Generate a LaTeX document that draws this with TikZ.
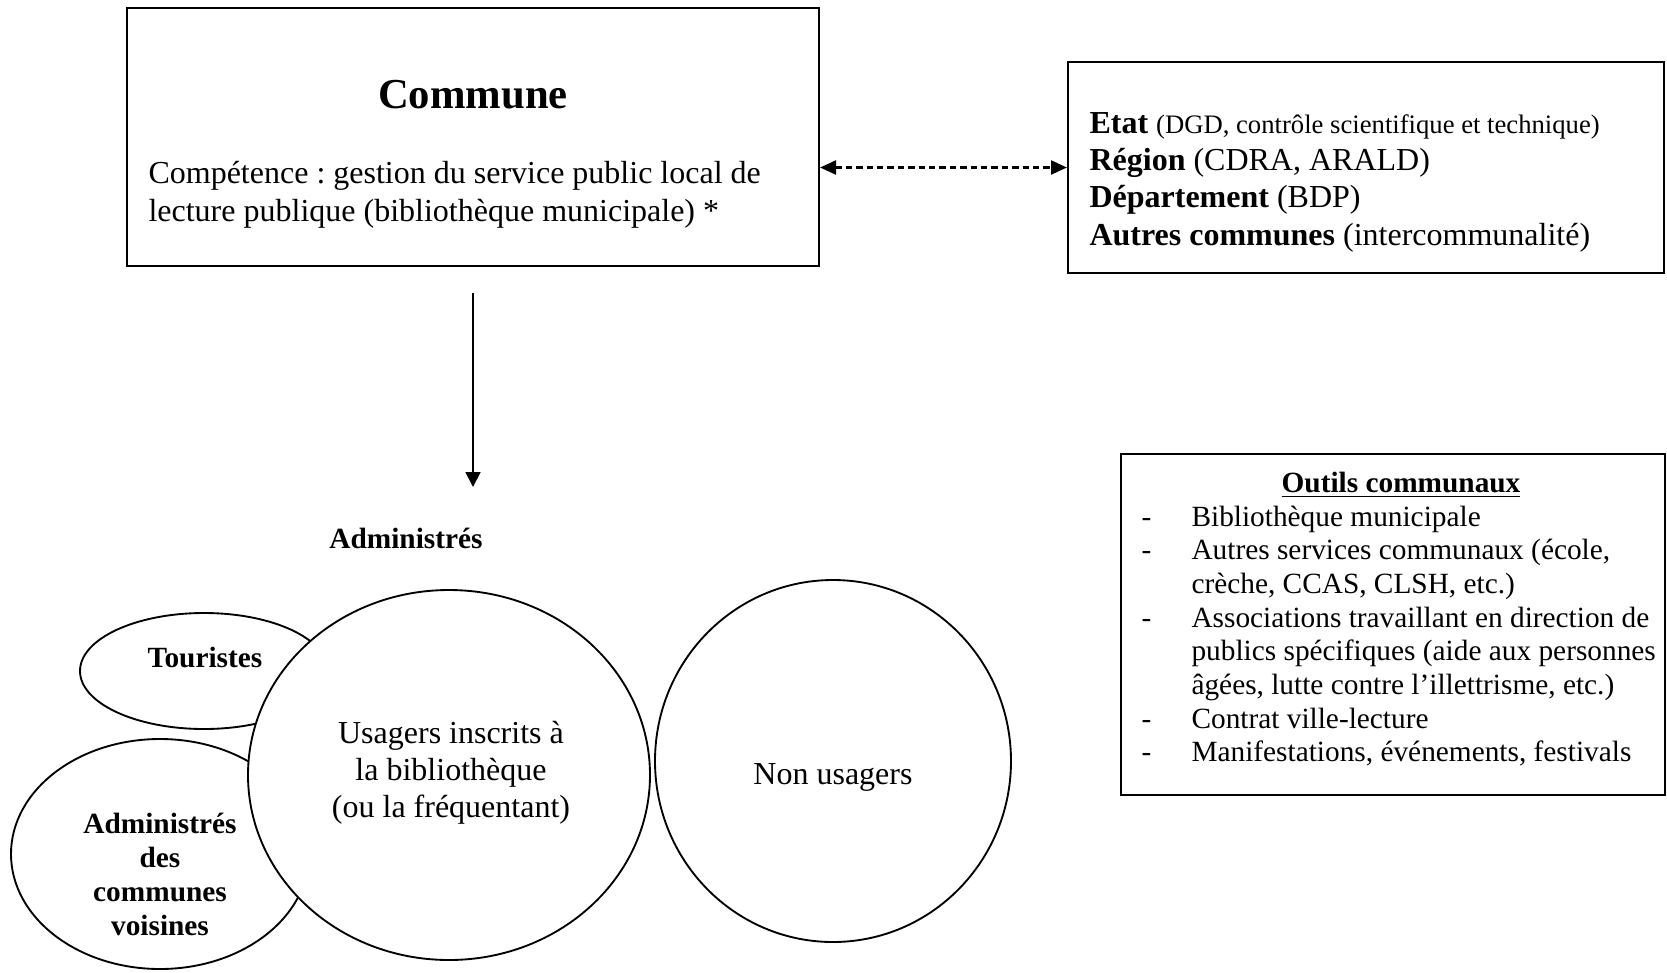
\documentclass[tikz,border=0pt]{standalone}
\usepackage{fontspec}
\setmainfont{Liberation Serif}
\frenchspacing
\usetikzlibrary{arrows.meta,shapes.geometric}

\begin{document}
\begin{tikzpicture}[x=0.375pt,y=-0.375pt,
  cadre/.style={draw,line width=0.75pt,inner sep=0pt},
  bulle/.style={ellipse,draw,line width=0.7pt,inner sep=0pt,fill=white},
  texte/.style={inner sep=0pt,anchor=base}]
 \useasboundingbox (0,0) rectangle (1667,972);

 \node[cadre,minimum width=259.5pt,minimum height=96.75pt] (A) at (473,137) {};
 \node[texte] (A1) at (473,108) {\fontsize{16}{19}\selectfont\bfseries Commune};
 \node[texte,anchor=base west] (A2) at (148,183) {\fontsize{12}{14.25}\selectfont\begin{tabular}[t]{@{}l@{}} Compétence : gestion du service public local de \\ lecture publique (bibliothèque municipale) * \end{tabular}};

 \node[cadre,minimum width=223.5pt,minimum height=79.125pt] (B) at (1366,167.5) {};
 \node[texte,anchor=base west] (B1) at (1089,133) {\fontsize{12}{14.06}\selectfont\begin{tabular}[t]{@{}l@{}} \textbf{Etat} {\fontsize{10}{12}\selectfont (DGD, contrôle scientifique et technique)} \\ \textbf{Région} (CDRA, ARALD) \\ \textbf{Département} (BDP) \\ \textbf{Autres communes} (intercommunalité) \end{tabular}};

 \node[cadre,minimum width=204pt,minimum height=127.875pt] (C) at (1393,624.5) {};
 \node[texte] (C1) at (1401,492) {\fontsize{11}{12.64}\selectfont\bfseries\underline{Outils communaux}};
 \node[texte,anchor=base west] (C2) at (1141,526) {\fontsize{11}{12.64}\selectfont\begin{tabular}[t]{@{}p{18.75pt}@{}l@{}} - & Bibliothèque municipale \\ - & Autres services communaux (école, \\ & crèche, CCAS, CLSH, etc.) \\ - & Associations travaillant en direction de \\ & publics spécifiques (aide aux personnes \\ & âgées, lutte contre l’illettrisme, etc.) \\ - & Contrat ville-lecture \\ - & Manifestations, événements, festivals \end{tabular}};

 \node[texte] (D) at (406,548) {\fontsize{11}{13}\selectfont\bfseries Administrés};

 \node[bulle,minimum width=93pt,minimum height=43.5pt] (E) at (204,671) {};
 \node[bulle,minimum width=111.75pt,minimum height=86.25pt] (F) at (160,854) {};
 \node[bulle,minimum width=150.75pt,minimum height=138.75pt] (G) at (449,775) {};
 \node[bulle,minimum width=133.5pt,minimum height=135.75pt] (H) at (833,761) {};

 \node[texte] (E1) at (205,667) {\fontsize{11}{13}\selectfont\bfseries Touristes};
 \node[texte] (F1) at (160,833) {\fontsize{11}{12.75}\selectfont\bfseries\begin{tabular}[t]{@{}c@{}} Administrés \\ des \\ communes \\ voisines \end{tabular}};
 \node[texte] (G1) at (451,743) {\fontsize{12}{13.9}\selectfont\begin{tabular}[t]{@{}c@{}} Usagers inscrits à \\ la bibliothèque \\ (ou la fréquentant) \end{tabular}};
 \node[texte] (H1) at (833,784) {\fontsize{12}{14}\selectfont Non usagers};

 \coordinate (a) at (473,293);
 \coordinate (b) at (473,487);
 \draw[-{Triangle[length=5.6pt,width=5.6pt]},line width=0.7pt] (a) -- (b);
 \draw[{Triangle[length=6pt,width=5.2pt]}-{Triangle[length=6pt,width=5.2pt]},line width=1pt,dash pattern=on 2.4pt off 1.5pt] (A.east |- B.west) -- (B.west);
\end{tikzpicture}
\end{document}
